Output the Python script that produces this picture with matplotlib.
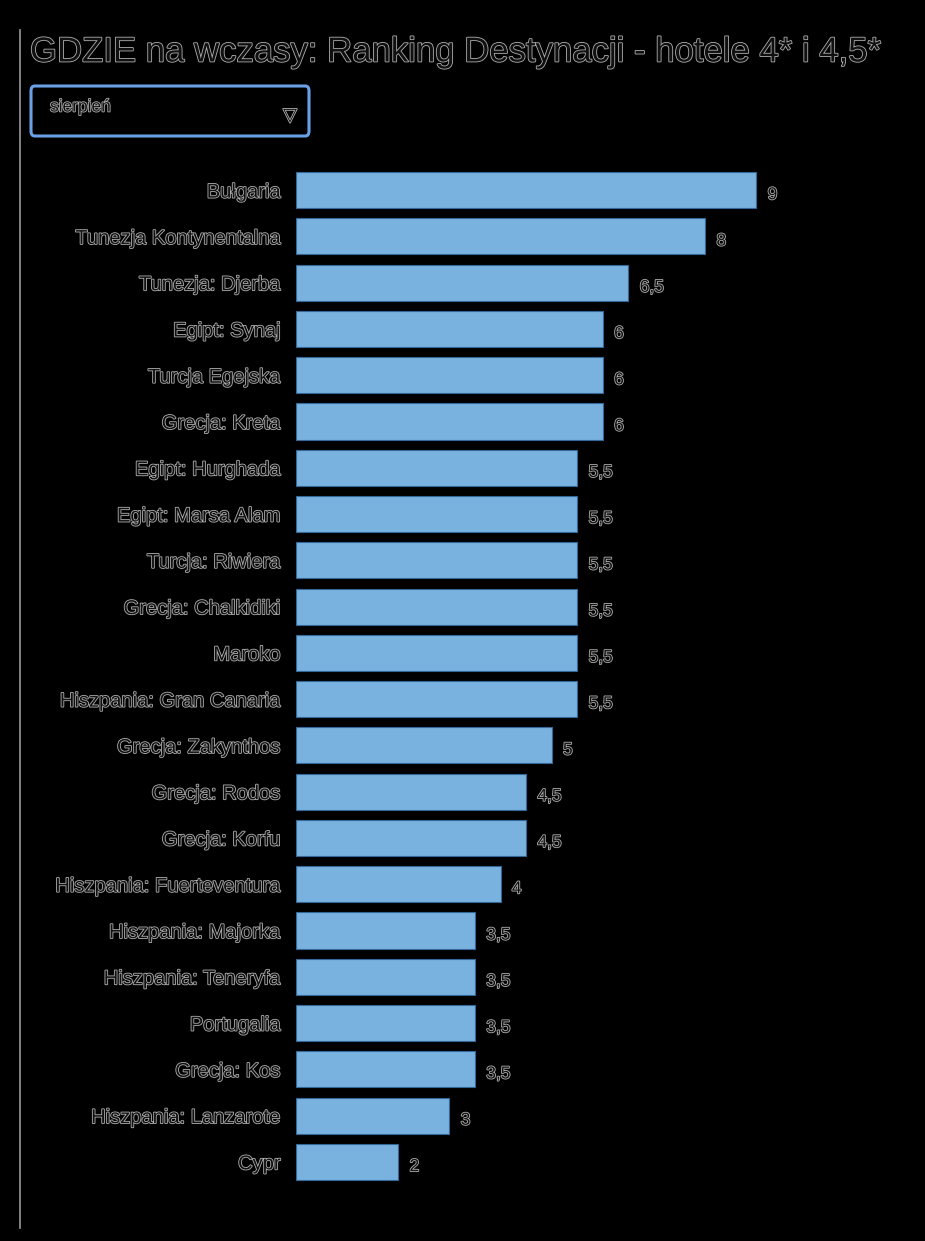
import matplotlib.pyplot as plt
import matplotlib.patheffects as pe
from matplotlib.patches import FancyBboxPatch

plt.rcParams['font.family'] = ['Liberation Sans', 'DejaVu Sans']

destinations = [
    "Bułgaria", "Tunezja Kontynentalna", "Tunezja: Djerba", "Egipt: Synaj",
    "Turcja Egejska", "Grecja: Kreta", "Egipt: Hurghada", "Egipt: Marsa Alam",
    "Turcja: Riwiera", "Grecja: Chalkidiki", "Maroko", "Hiszpania: Gran Canaria",
    "Grecja: Zakynthos", "Grecja: Rodos", "Grecja: Korfu",
    "Hiszpania: Fuerteventura", "Hiszpania: Majorka", "Hiszpania: Teneryfa",
    "Portugalia", "Grecja: Kos", "Hiszpania: Lanzarote", "Cypr",
]
scores = [9, 8, 6.5, 6, 6, 6, 5.5, 5.5, 5.5, 5.5, 5.5, 5.5,
          5, 4.5, 4.5, 4, 3.5, 3.5, 3.5, 3.5, 3, 2]
month = "sierpień"
title = "GDZIE na wczasy: Ranking Destynacji - hotele 4* i 4,5*"

halo = [pe.withStroke(linewidth=1.2, foreground='#b0b0b0')]
txt_col = '#101010'

fig = plt.figure(figsize=(9.25, 12.41), dpi=100, facecolor='black')
ax = fig.add_axes([0.32, 0.0451, 0.553, 0.8203])
ax.set_facecolor('black')

ypos = list(range(len(destinations)))
ax.barh(ypos, scores, height=0.78, color='#79b2de', edgecolor='#35689a',
        linewidth=0.8)
ax.set_ylim(len(destinations) - 0.5, -0.5)
ax.set_xlim(0, 10)

for y, v in zip(ypos, scores):
    lab = f"{v:g}".replace('.', ',')
    ax.text(v + 0.22, y + 0.1, lab, va='center', ha='left', fontsize=12.5,
            color=txt_col, path_effects=halo)

ax.set_yticks(ypos)
ax.set_yticklabels(destinations, fontsize=14.5, color=txt_col)
for t in ax.get_yticklabels():
    t.set_path_effects(halo)
ax.tick_params(axis='y', length=0, pad=11)
ax.set_xticks([])
for s in ax.spines.values():
    s.set_visible(False)

# left rule
fig.add_artist(plt.Line2D([20 / 925, 20 / 925], [1 - 30 / 1241, 1 - 1228 / 1241],
                          color='#9a9a9a', linewidth=1.2))

fig.text(30 / 925, 1 - 52 / 1241, title, fontsize=25, color=txt_col,
         va='center', ha='left', path_effects=halo)

# dropdown
box = FancyBboxPatch((31 / 925, 1 - 136 / 1241), 278 / 925, 50 / 1241,
                     boxstyle='round,pad=0,rounding_size=0.004',
                     transform=fig.transFigure, facecolor='black',
                     edgecolor='#6aa0e6', linewidth=2.2)
fig.add_artist(box)
fig.text(50 / 925, 1 - 107 / 1241, month, fontsize=12.5, color=txt_col,
         va='center', ha='left', path_effects=halo)
fig.text(290 / 925, 1 - 116 / 1241, "▽", fontsize=13, color=txt_col,
         va='center', ha='center', path_effects=halo)

fig.savefig('out.png', dpi=100, facecolor='black')
